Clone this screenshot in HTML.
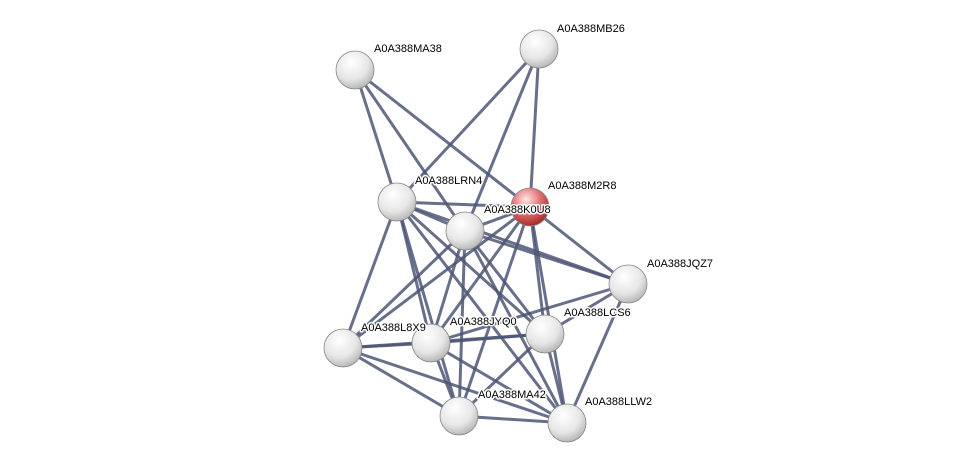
<!DOCTYPE html>
<html><head><meta charset="utf-8"><style>
html,body{margin:0;padding:0;background:#fff;}
svg{display:block;}
text{font-family:"Liberation Sans",sans-serif;font-size:11px;fill:#000;stroke:#fff;stroke-width:3px;paint-order:stroke;stroke-linejoin:round;}
</style></head><body>
<svg width="975" height="468" viewBox="0 0 975 468" xmlns="http://www.w3.org/2000/svg">
<defs>
<radialGradient id="g" cx="0.4" cy="0.3" r="0.75">
<stop offset="0" stop-color="#ffffff"/><stop offset="0.6" stop-color="#e6e6e6"/><stop offset="1" stop-color="#b0b0b0"/>
</radialGradient>
<radialGradient id="r" cx="0.4" cy="0.3" r="0.75">
<stop offset="0" stop-color="#ffe6e6"/><stop offset="0.5" stop-color="#e07070"/><stop offset="1" stop-color="#a02020"/>
</radialGradient>
</defs>
<g stroke="#4d5676" stroke-width="3" stroke-opacity="0.85" stroke-linecap="round">
<line x1="355" y1="70" x2="397" y2="202"/>
<line x1="355" y1="70" x2="530" y2="207"/>
<line x1="355" y1="70" x2="465" y2="231"/>
<line x1="539" y1="49" x2="397" y2="202"/>
<line x1="539" y1="49" x2="465" y2="231"/>
<line x1="539" y1="49" x2="530" y2="207"/>
<line x1="397" y1="202" x2="530" y2="207"/>
<line x1="397" y1="202" x2="465" y2="231"/>
<line x1="397" y1="202" x2="628" y2="284"/>
<line x1="397" y1="202" x2="545" y2="334"/>
<line x1="397" y1="202" x2="343" y2="348"/>
<line x1="397" y1="202" x2="431" y2="343"/>
<line x1="397" y1="202" x2="459" y2="416"/>
<line x1="397" y1="202" x2="567" y2="423"/>
<line x1="530" y1="207" x2="465" y2="231"/>
<line x1="530" y1="207" x2="628" y2="284"/>
<line x1="530" y1="207" x2="545" y2="334"/>
<line x1="530" y1="207" x2="343" y2="348"/>
<line x1="530" y1="207" x2="431" y2="343"/>
<line x1="530" y1="207" x2="459" y2="416"/>
<line x1="530" y1="207" x2="567" y2="423"/>
<line x1="465" y1="231" x2="628" y2="284"/>
<line x1="465" y1="231" x2="545" y2="334"/>
<line x1="465" y1="231" x2="343" y2="348"/>
<line x1="465" y1="231" x2="431" y2="343"/>
<line x1="465" y1="231" x2="459" y2="416"/>
<line x1="465" y1="231" x2="567" y2="423"/>
<line x1="628" y1="284" x2="545" y2="334"/>
<line x1="628" y1="284" x2="431" y2="343"/>
<line x1="628" y1="284" x2="567" y2="423"/>
<line x1="545" y1="334" x2="343" y2="348"/>
<line x1="545" y1="334" x2="431" y2="343"/>
<line x1="545" y1="334" x2="459" y2="416"/>
<line x1="545" y1="334" x2="567" y2="423"/>
<line x1="343" y1="348" x2="431" y2="343"/>
<line x1="343" y1="348" x2="459" y2="416"/>
<line x1="343" y1="348" x2="567" y2="423"/>
<line x1="431" y1="343" x2="459" y2="416"/>
<line x1="431" y1="343" x2="567" y2="423"/>
<line x1="459" y1="416" x2="567" y2="423"/>
</g>
<g stroke="#888" stroke-width="0.8">
<circle cx="355" cy="70" r="19" fill="url(#g)"/>
<circle cx="539" cy="49" r="19" fill="url(#g)"/>
<circle cx="397" cy="202" r="19" fill="url(#g)"/>
<circle cx="530" cy="207" r="19" fill="url(#r)"/>
<circle cx="465" cy="231" r="19" fill="url(#g)"/>
<circle cx="628" cy="284" r="19" fill="url(#g)"/>
<circle cx="545" cy="334" r="19" fill="url(#g)"/>
<circle cx="343" cy="348" r="19" fill="url(#g)"/>
<circle cx="431" cy="343" r="19" fill="url(#g)"/>
<circle cx="459" cy="416" r="19" fill="url(#g)"/>
<circle cx="567" cy="423" r="19" fill="url(#g)"/>
</g>
<text x="374" y="52">A0A388MA38</text>
<text x="557" y="32">A0A388MB26</text>
<text x="415" y="184">A0A388LRN4</text>
<text x="548" y="189">A0A388M2R8</text>
<text x="484" y="213">A0A388K0U8</text>
<text x="647" y="267">A0A388JQZ7</text>
<text x="564" y="316">A0A388LCS6</text>
<text x="361" y="331">A0A388L8X9</text>
<text x="450" y="325">A0A388JYQ0</text>
<text x="478" y="398">A0A388MA42</text>
<text x="585" y="405">A0A388LLW2</text>
</svg>
</body></html>
